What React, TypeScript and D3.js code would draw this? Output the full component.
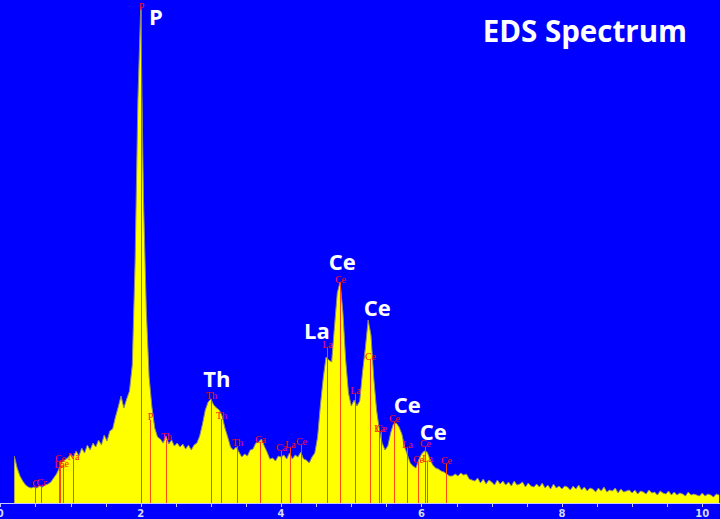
import React from 'react';
import * as d3 from 'd3';

const W = 720;
const H = 519;

// spectrum channels: first channel energy and width (keV)
const startEnergy = 0.2;
const channelWidth = 0.04;
const counts = [
  47, 35, 27, 22, 18, 16, 15, 16, 15, 17, 16, 18, 19, 21, 25, 29, 35, 41, 43, 45,
  49, 46, 52, 47, 55, 50, 58, 53, 60, 56, 63, 58, 68, 62, 72, 74, 86, 96, 107, 95,
  104, 112, 138,
  241, 403, 496, 303, 193, 126, 96, 75, 66,
  64, 60, 67, 59, 63, 57, 60, 56, 59, 54, 58, 53, 58, 60, 67, 79, 93, 101, 104, 98,
  95, 93, 87, 75, 66, 56, 53, 56, 51, 46, 49, 47, 53, 54, 60, 61, 64, 57, 51, 44,
  45, 42, 47, 46, 48, 44, 50, 44, 48, 46, 51, 44, 43, 40, 46, 50, 66, 98, 125, 146,
  143, 141, 176, 210, 221, 191, 143, 110, 97, 103, 97, 102, 131, 155, 183, 168, 125, 93, 73, 60,
  53, 57, 70, 79, 80, 76, 69, 56, 48, 40, 37, 35, 43, 49, 52, 51, 44, 38, 35, 34,
  32, 31, 29, 27, 27, 29, 27, 30, 28, 29, 24, 23,
  22, 25, 20, 24, 19, 23, 21, 18, 23, 19, 22, 18, 21, 17, 22, 18, 19, 21, 16, 20,
  17, 16, 19, 16, 20, 15, 18, 14, 19, 15, 17, 14, 17, 16, 13, 17, 14, 18, 13, 16,
  12, 15, 14, 11, 15, 12, 16, 11, 13, 12, 15, 10, 14, 11, 12, 13, 10, 13, 9, 12,
  11, 9, 13, 10, 11, 8, 12, 10, 9, 12, 8, 11, 8, 10, 9, 7, 11, 8, 9, 8,
  7, 10, 7, 9, 8, 6, 9, 8,
];

// identified lines (small red markers)
const lineNames = ['C', 'Cr', 'La', 'Ce', 'Ce', 'Na', 'P', 'P', 'Th', 'Th', 'Th', 'Th', 'Ca', 'Ca', 'La', 'Ce',
  'La', 'Ce', 'La', 'Ce', 'La', 'Ce', 'Ce', 'La', 'Ce', 'Ce', 'La', 'Ce'];
const lineEnergies = [0.489, 0.574, 0.831, 0.855, 0.888, 1.036, 2.005, 2.127, 2.36, 2.996, 3.144, 3.37, 3.694, 4.003, 4.121, 4.283,
  4.654, 4.843, 5.047, 5.261, 5.395, 5.417, 5.613, 5.793, 5.944, 6.044, 6.073, 6.353];
const lineHeights = [16, 17, 35, 41, 36, 43, 493, 83, 63, 104, 84, 57, 60, 52, 55, 58,
  155, 220, 109, 143, 71, 71, 81, 55, 40, 56, 41, 39];

// big element annotations
const peakNames = ['P', 'Th', 'La', 'Ce', 'Ce', 'Ce', 'Ce'];
const peakEnergies = [2.215, 3.084, 4.509, 4.872, 5.37, 5.798, 6.168];
const peakCounts = [478, 116, 164, 233, 187, 90, 63];

const tickLabels = [0, 2, 4, 6, 8, 10];

export default function App() {
  const x = d3.scaleLinear().domain([0, 10]).range([0.3, 702.3]);
  const y = d3.scaleLinear().domain([0, 500]).range([503, 3]);

  const pts = counts.map((c, i) => ({ e: startEnergy + i * channelWidth, c }));

  const area = d3.area<{ e: number; c: number }>()
    .x(d => x(d.e))
    .y0(y(0))
    .y1(d => y(d.c));
  const line = d3.line<{ e: number; c: number }>()
    .x(d => x(d.e))
    .y(d => y(d.c));

  const minorTicks = d3.range(0, 10.01, 0.5);

  return (
    <svg width={W} height={H} style={{ position: 'fixed', left: 0, top: 0, display: 'block' }}>
      <rect width={W} height={H} fill="#0000ff" />
      <path d={area(pts) || ''} fill="#ffff00" />
      <path d={line(pts) || ''} fill="none" stroke="#8a8a70" strokeWidth={1} />

      {lineEnergies.map((e, i) => {
        const px = Math.round(x(e)) + 0.5;
        return (
          <g key={'m' + i}>
            <line x1={px} x2={px} y1={y(0)} y2={y(lineHeights[i])} stroke="#ff4a00" strokeWidth={1} />
            <text x={px} y={y(lineHeights[i]) - 0.5} textAnchor="middle" fill="#ff1010"
              fontFamily="'Liberation Serif', serif" fontSize={10}>{lineNames[i]}</text>
          </g>
        );
      })}

      <line x1={0} x2={W} y1={503.5} y2={503.5} stroke="#c8c8ff" strokeWidth={1} />
      {minorTicks.map(t => (
        <line key={'t' + t} x1={Math.round(x(t)) + 0.5} x2={Math.round(x(t)) + 0.5} y1={504} y2={507}
          stroke="#c8c8ff" strokeWidth={1} />
      ))}
      {tickLabels.map(t => (
        <text key={'l' + t} x={x(t)} y={517} textAnchor="middle" fill="#d8d8ff"
          fontFamily="'DejaVu Sans', sans-serif" fontWeight="bold" fontSize={10}>{t}</text>
      ))}

      {peakNames.map((n, i) => (
        <text key={'p' + i} x={x(peakEnergies[i])} y={y(peakCounts[i])} textAnchor="middle" fill="#ffffff"
          fontFamily="'Open Sans', sans-serif" fontWeight="bold" fontSize={22}>{n}</text>
      ))}

      <text x={687} y={42} textAnchor="end" fill="#ffffff" fontFamily="'Open Sans', sans-serif"
        fontWeight="bold" fontSize={29.5}>EDS Spectrum</text>
    </svg>
  );
}
